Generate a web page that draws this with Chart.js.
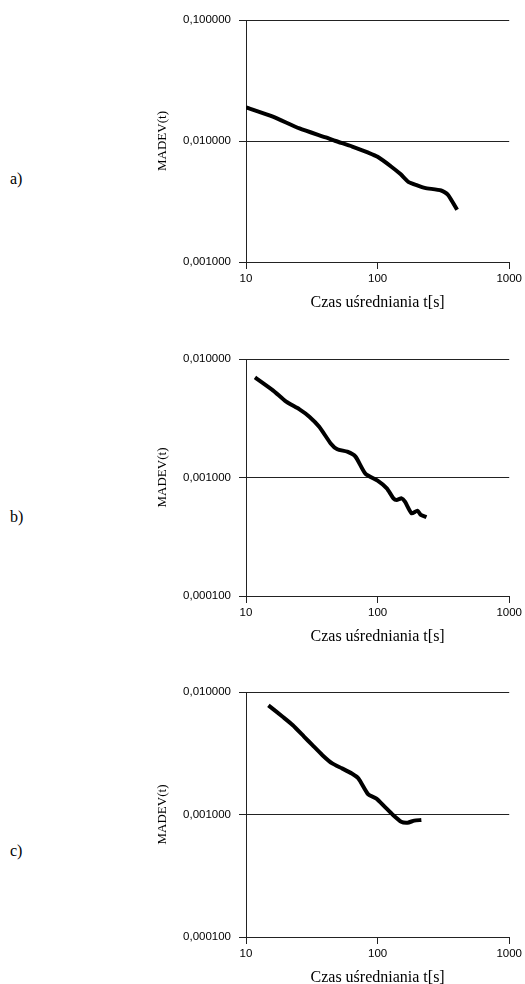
<!DOCTYPE html>
<html>
<head>
<meta charset="utf-8">
<script src="https://cdn.jsdelivr.net/npm/chart.js@4/dist/chart.umd.min.js"></script>
<style>
  html, body { margin: 0; padding: 0; background: #fff; overflow: hidden; }
  body { width: 525px; height: 984px; position: relative; }
  canvas { position: absolute; left: 140px; }
  .lbl { position: absolute; left: 10px; font: 16px "Liberation Serif", serif; color: #000; line-height: 1; }
</style>
</head>
<body>
<div class="lbl" style="top:171px">a)</div>
<div class="lbl" style="top:509px">b)</div>
<div class="lbl" style="top:843px">c)</div>
<canvas id="chart-a" width="385" height="322" style="top:0px"></canvas>
<canvas id="chart-b" width="385" height="317" style="top:339px"></canvas>
<canvas id="chart-c" width="385" height="325" style="top:672px"></canvas>
<script>
const xTicks = [10, 100, 1000];
const yTicksA = [0.001, 0.01, 0.1];
const yTicksBC = [0.0001, 0.001, 0.01];

const tauA = [10, 16, 25.5, 40.4, 48, 64.2, 85, 100, 128, 150, 171, 200, 228, 304, 342, 402];
const madevA = [0.0190, 0.0159, 0.0127, 0.0107, 0.0100, 0.0090, 0.0080, 0.0074, 0.0061, 0.0053, 0.0046, 0.0043, 0.0041, 0.0039, 0.0036, 0.0027];

const tauB = [11.7, 16.1, 20.2, 25.5, 30.3, 36, 44, 49.4, 58.8, 67.9, 80.7, 100, 117.5, 131.9, 139.6, 152.3, 161.4, 181.2, 201, 213, 235];
const madevB = [0.00699, 0.00541, 0.00436, 0.00376, 0.00326, 0.00268, 0.00194, 0.00173, 0.00165, 0.00150, 0.00108, 0.00094, 0.00081, 0.000667, 0.000646, 0.000667, 0.000625, 0.000499, 0.000525, 0.000483, 0.000462];

const tauC = [14.8, 19.1, 22.7, 27.7, 32, 38.1, 45.2, 53.7, 63.7, 71.5, 84.9, 98, 113, 131, 151, 169, 190, 215];
const madevC = [0.00778, 0.00625, 0.00536, 0.00431, 0.00368, 0.00305, 0.00261, 0.00238, 0.00216, 0.00197, 0.00146, 0.00135, 0.00116, 0.000991, 0.000874, 0.000858, 0.000891, 0.000902];

function makeChart(id, tau, madev, yTicks) {
    const ctx = document.getElementById(id).getContext('2d');
    return new Chart(ctx, {
        type: 'line',
        data: {
            datasets: [{
                data: tau.map((t, i) => ({ x: t, y: madev[i] })),
                borderColor: '#000',
                borderWidth: 4,
                pointRadius: 0,
                tension: 0.2,
                fill: false
            }]
        },
        options: {
            responsive: false,
            animation: false,
            devicePixelRatio: 1,
            layout: { padding: { top: 20, right: 13, left: 0, bottom: 0 } },
            plugins: { legend: { display: false }, tooltip: { enabled: false } },
            scales: {
                x: {
                    type: 'logarithmic',
                    min: xTicks[0],
                    max: xTicks[xTicks.length - 1],
                    afterBuildTicks: s => { s.ticks = xTicks.map(v => ({ value: v })); },
                    afterFit: s => { s.height = 60; },
                    ticks: {
                        autoSkip: false, maxRotation: 0, padding: 3, color: '#000',
                        font: { family: 'Liberation Sans', size: 11.5 },
                        callback: v => String(v)
                    },
                    grid: { drawOnChartArea: false, drawTicks: true, tickLength: 7, color: '#222' },
                    border: { display: true, color: '#222', width: 1 },
                    title: {
                        display: true, text: 'Czas uśredniania t[s]', color: '#000',
                        font: { family: 'Liberation Serif', size: 16 },
                        padding: { top: 0, bottom: 10 }
                    }
                },
                y: {
                    type: 'logarithmic',
                    min: yTicks[0],
                    max: yTicks[yTicks.length - 1],
                    afterBuildTicks: s => { s.ticks = yTicks.map(v => ({ value: v })); },
                    afterFit: s => { s.width = 106; },
                    ticks: {
                        autoSkip: false, padding: 8, color: '#000',
                        font: { family: 'Liberation Sans', size: 11.5 },
                        callback: v => Number(v).toFixed(6).replace('.', ',')
                    },
                    grid: { drawOnChartArea: true, drawTicks: true, tickLength: 7, color: '#222' },
                    border: { display: true, color: '#222', width: 1 },
                    title: {
                        display: true, text: 'MADEV(t)', color: '#000',
                        font: { family: 'Liberation Serif', size: 13 },
                        padding: { top: 15, bottom: 0 }
                    }
                }
            }
        }
    });
}

makeChart('chart-a', tauA, madevA, yTicksA);
makeChart('chart-b', tauB, madevB, yTicksBC);
makeChart('chart-c', tauC, madevC, yTicksBC);
</script>
</body>
</html>
